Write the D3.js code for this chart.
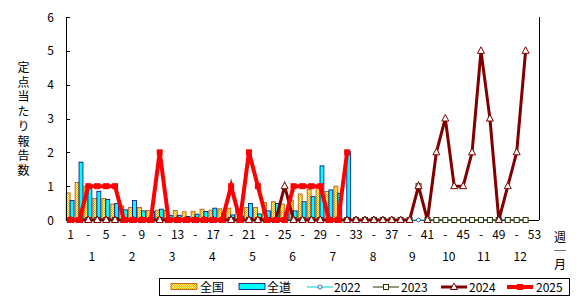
<!DOCTYPE html>
<html><head><meta charset="utf-8">
<script src="https://cdn.jsdelivr.net/npm/d3@7"></script>
<style>
html,body{margin:0;padding:0;background:#fff;}
svg text{font-family:"Noto Sans CJK JP","Noto Sans",sans-serif;font-size:12px;fill:#000;}
</style></head>
<body><svg id="c" width="579" height="299"></svg>
<script>
// ---- data ----
const weeks = d3.range(1, 54);
const weekTickLabels = ["1","-","5","-","9","-","13","-","17","-","21","-","25","-","29","-","33","-","37","-","41","-","45","-","49","-","53"];
const monthLabels = ["1","2","3","4","5","6","7","8","9","10","11","12"];
const monthWeekPos = [3.4, 7.9, 12.4, 16.9, 21.4, 25.9, 30.4, 34.9, 39.3, 43.4, 47.3, 51.4];
const yTicks = [0,1,2,3,4,5,6];
// 全国 (national) per-week values, weeks 1..31
const zenkoku = [0.80,1.11,1.00,0.64,0.64,0.47,0.42,0.37,0.37,0.28,0.29,0.28,0.28,0.24,0.26,0.32,0.29,0.33,0.35,0.33,0.37,0.37,0.52,0.54,0.47,0.59,0.77,0.91,1.03,0.84,1.00];
// 全道 (Hokkaido) per-week values, weeks 1..32
const zendo = [0.58,1.71,0.97,0.85,0.61,0.49,0.30,0.58,0.27,0.25,0.32,0.14,0.14,0.10,0.17,0.25,0.35,0.20,0.15,0.12,0.49,0.18,0.27,0.49,0.20,0.27,0.54,0.69,1.60,0.89,0.79,2.02];
const s2022 = [0,0,0,0,0,0,0,0,0,0,0,0,0,0,0,0,0,0,0,0,0,0,0,0,0,0,0,0,0,0,0,0,0,0,0,0,0,0,0,0,0,0,0,0,0,0,0,0,0,0,0,0];
const s2023 = [0,0,0,0,0,0,0,0,0,0,0,0,0,0,0,0,0,0,0,0,0,0,0,0,0,0,0,0,0,0,0,0,0,0,0,0,0,0,0,1,0,0,0,0,0,0,0,0,0,0,0,0];
const s2024 = [0,0,0,0,0,0,0,0,0,0,0,0,0,0,0,0,0,0,0,0,0,0,0,0,1,0,0,0,0,0,0,0,0,0,0,0,0,0,0,1,0,2,3,1,1,2,5,3,0,1,2,5];
const s2025 = [0,0,1,1,1,1,0,0,0,0,2,0,0,0,0,0,0,0,1,0,2,1,0,0,0,1,1,1,1,0,0,2];
const yTitle = "定点当たり報告数";
const xUnit = "週｜月";

// ---- layout ----
const svg = d3.select("#c");
const L = 66, R = 539, T = 17, B = 220;
const x = d3.scaleBand().domain(weeks).range([L, R]).padding(0);
const bw = x.bandwidth();
const xc = d3.scaleLinear().domain([1, 53]).range([x(1) + bw/2, x(53) + bw/2]);
const xs = d3.scaleBand().domain(["全国","全道"]).range([0.2, bw - 0.9]).padding(0);
const y = d3.scaleLinear().domain([0, 6]).range([B, T]);

const defs = svg.append("defs");
const pat = defs.append("pattern").attr("id","dots").attr("width",2).attr("height",2).attr("patternUnits","userSpaceOnUse");
pat.append("rect").attr("width",2).attr("height",2).attr("fill","#ffaa00");
pat.append("rect").attr("x",1).attr("y",0).attr("width",1).attr("height",1).attr("fill","#ffff80");
pat.append("rect").attr("x",0).attr("y",1).attr("width",1).attr("height",1).attr("fill","#ffff80");

// bars
const barG = svg.append("g");
barG.selectAll("rect.zk").data(zenkoku).join("rect")
  .attr("x",(d,i)=>x(weeks[i]) + xs("全国")).attr("y",d=>y(d))
  .attr("width",xs.bandwidth()).attr("height",d=>B - y(d))
  .attr("fill","url(#dots)").attr("stroke","#b05000").attr("stroke-width",0.8);
barG.selectAll("rect.zd").data(zendo).join("rect")
  .attr("x",(d,i)=>x(weeks[i]) + xs("全道")).attr("y",d=>y(d))
  .attr("width",xs.bandwidth()).attr("height",d=>B - y(d))
  .attr("fill","#00ffff").attr("stroke","#000080").attr("stroke-width",0.8);

// axes
const ax = svg.append("g").attr("stroke","#000").attr("fill","none").attr("shape-rendering","crispEdges");
ax.append("line").attr("x1",L).attr("x2",L).attr("y1",T).attr("y2",B);
ax.append("line").attr("x1",L).attr("x2",R).attr("y1",B).attr("y2",B);
ax.append("line").attr("x1",R).attr("x2",R).attr("y1",T).attr("y2",B);
ax.selectAll("line.t").data(yTicks).join("line")
  .attr("x1",L).attr("x2",L+4).attr("y1",d=>Math.round(y(d))+0.5).attr("y2",d=>Math.round(y(d))+0.5);
svg.append("g").selectAll("text").data(yTicks).join("text")
  .attr("x",54).attr("y",d=>y(d)+4.5).attr("text-anchor","end").text(d=>d);

// lines
function drawLine(data, color, width, marker) {
  const pts = data.map((v,i)=>({w:weeks[i], v}));
  const g = svg.append("g");
  g.append("path").datum(pts)
    .attr("d", d3.line().x(d=>x(d.w)+bw/2).y(d=>y(d.v)))
    .attr("fill","none").attr("stroke",color).attr("stroke-width",width).attr("stroke-linejoin","miter");
  marker(g.selectAll("g.m").data(pts).join("g").attr("transform",d=>`translate(${x(d.w)+bw/2},${y(d.v)})`));
}
const circleM = sel => sel.append("circle").attr("r",2).attr("fill","#fff").attr("stroke","#3366cc").attr("stroke-width",1);
const squareM = sel => sel.append("rect").attr("x",-2.5).attr("y",-2.5).attr("width",5).attr("height",5).attr("fill","#fff").attr("stroke","#333300").attr("stroke-width",1);
const triM = sel => sel.append("path").attr("d","M0,-4L3.5,2.5L-3.5,2.5Z").attr("fill","#fff").attr("stroke","#800000").attr("stroke-width",1);
const redM = sel => sel.append("rect").attr("x",-3).attr("y",-3).attr("width",6).attr("height",6).attr("fill","#ff0000");
drawLine(s2022, "#00cccc", 1, circleM);
drawLine(s2023, "#333300", 1, squareM);
drawLine(s2024, "#800000", 3, triM);
drawLine(s2025, "#ff0000", 4, redM);

// x labels
svg.append("g").selectAll("text").data(weekTickLabels).join("text")
  .attr("x",(d,i)=>x(weeks[i*2]) + bw/2).attr("y",239).attr("text-anchor","middle").text(d=>d);
svg.append("g").selectAll("text").data(monthLabels).join("text")
  .attr("x",(d,i)=>xc(monthWeekPos[i])).attr("y",261).attr("text-anchor","middle").text(d=>d);
svg.append("text").attr("x",560).attr("y",231.5)
  .style("writing-mode","vertical-rl").style("letter-spacing","1.7px").text(xUnit);

// y title
svg.append("text").attr("x",23.5).attr("y",61.5)
  .style("writing-mode","vertical-rl").style("letter-spacing","2.7px").text(yTitle);

// legend
const lg = svg.append("g");
lg.append("rect").attr("x",159.5).attr("y",278.5).attr("width",410).attr("height",17).attr("fill","#fff").attr("stroke","#000");
const ly = 287;
lg.append("rect").attr("x",171).attr("y",283.5).attr("width",26).attr("height",6).attr("fill","url(#dots)").attr("stroke","#b05000").attr("stroke-width",0.8);
lg.append("text").attr("x",200).attr("y",292).text("全国");
lg.append("rect").attr("x",239).attr("y",283.5).attr("width",26).attr("height",6).attr("fill","#00ffff").attr("stroke","#000080").attr("stroke-width",0.8);
lg.append("text").attr("x",267).attr("y",292).text("全道");
const legLines = [
  {x:307, c:"#00cccc", w:1, m:circleM, t:"2022", tx:334},
  {x:373, c:"#333300", w:1, m:squareM, t:"2023", tx:401},
  {x:441, c:"#800000", w:3, m:triM, t:"2024", tx:469},
  {x:507, c:"#ff0000", w:4, m:redM, t:"2025", tx:536}
];
legLines.forEach(o=>{
  lg.append("line").attr("x1",o.x).attr("x2",o.x+26).attr("y1",ly).attr("y2",ly).attr("stroke",o.c).attr("stroke-width",o.w);
  o.m(lg.append("g").attr("transform",`translate(${o.x+13},${ly})`));
  lg.append("text").attr("x",o.tx).attr("y",292).text(o.t);
});
</script></body></html>
